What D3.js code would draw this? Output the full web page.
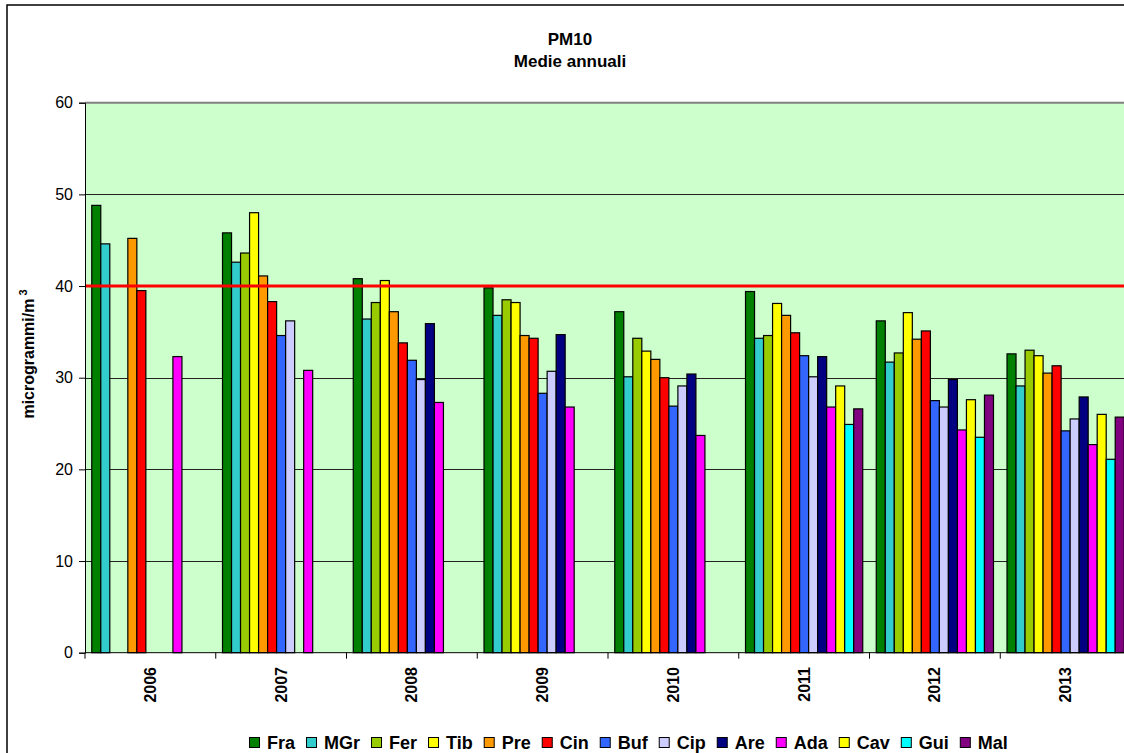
<!DOCTYPE html>
<html>
<head>
<meta charset="utf-8">
<script src="https://cdn.jsdelivr.net/npm/d3@7"></script>
<style>
  body { margin: 0; background: #fff; }
  svg { display: block; font-family: "Liberation Sans", Arial, sans-serif; }
</style>
</head>
<body>
<svg id="chart" width="1124" height="753"></svg>
<script>
const years = ["2006", "2007", "2008", "2009", "2010", "2011", "2012", "2013"];
const series = ["Fra", "MGr", "Fer", "Tib", "Pre", "Cin", "Buf", "Cip", "Are", "Ada", "Cav", "Gui", "Mal"];
const colors = ["#008000", "#33cccc", "#99cc00", "#ffff00", "#ff9900", "#ff0000", "#3366ff", "#ccccff", "#000080", "#ff00ff", "#ffff00", "#00ffff", "#800080"];

const Fra = [48.8, 45.8, 40.8, 39.8, 37.2, 39.4, 36.2, 32.6];
const MGr = [44.6, 42.6, 36.4, 36.8, 30.1, 34.3, 31.7, 29.1];
const Fer = [null, 43.6, 38.2, 38.5, 34.3, 34.6, 32.7, 33.0];
const Tib = [null, 48.0, 40.6, 38.2, 32.9, 38.1, 37.1, 32.4];
const Pre = [45.2, 41.1, 37.2, 34.6, 32.0, 36.8, 34.2, 30.5];
const Cin = [39.5, 38.3, 33.8, 34.3, 30.0, 34.9, 35.1, 31.3];
const Buf = [null, 34.6, 31.9, 28.3, 26.9, 32.4, 27.5, 24.2];
const Cip = [null, 36.2, 29.8, 30.7, 29.1, 30.1, 26.8, 25.5];
const Are = [null, null, 35.9, 34.7, 30.4, 32.3, 29.8, 27.9];
const Ada = [32.3, 30.8, 27.3, 26.8, 23.7, 26.8, 24.3, 22.7];
const Cav = [null, null, null, null, null, 29.1, 27.6, 26.0];
const Gui = [null, null, null, null, null, 24.9, 23.5, 21.1];
const Mal = [null, null, null, null, null, 26.6, 28.1, 25.7];
const values = [Fra, MGr, Fer, Tib, Pre, Cin, Buf, Cip, Are, Ada, Cav, Gui, Mal];

const yTicks = [0, 10, 20, 30, 40, 50, 60];
const limitValue = 40;

const svg = d3.select("#chart");
const margin = { top: 102.7, left: 85, right: 1131, bottom: 652.7 };

// flatten to bar records
const bars = [];
years.forEach((yr, i) => {
  series.forEach((s, j) => {
    const v = values[j][i];
    if (v != null) bars.push({ year: yr, series: s, value: v, color: colors[j] });
  });
});

// chart border
svg.append("rect")
  .attr("x", 7).attr("y", 5)
  .attr("width", 1126).attr("height", 760)
  .attr("fill", "#fff")
  .attr("stroke", "#000")
  .attr("stroke-width", 1.5);

// scales
const x0 = d3.scaleBand()
  .domain(years)
  .range([margin.left, margin.right])
  .padding(0);

const x1 = d3.scaleBand()
  .domain(series)
  .range([0, x0.bandwidth()])
  .paddingInner(0)
  .paddingOuter(0.75);

const y = d3.scaleLinear()
  .domain([0, 60])
  .range([margin.bottom, margin.top]);

// plot background
svg.append("rect")
  .attr("x", margin.left).attr("y", margin.top)
  .attr("width", margin.right - margin.left)
  .attr("height", margin.bottom - margin.top)
  .attr("fill", "#ccffcc");

// grid lines
svg.append("g")
  .selectAll("line")
  .data(yTicks.filter(d => d > 0 && d < 60))
  .join("line")
  .attr("x1", margin.left).attr("x2", margin.right)
  .attr("y1", d => Math.round(y(d)) + 0.5).attr("y2", d => Math.round(y(d)) + 0.5)
  .attr("stroke", "#222")
  .attr("stroke-width", 1);

svg.append("line")
  .attr("x1", margin.left).attr("x2", margin.right)
  .attr("y1", y(60)).attr("y2", y(60))
  .attr("stroke", "#808080")
  .attr("stroke-width", 2);

// bars
svg.append("g")
  .selectAll("rect")
  .data(bars)
  .join("rect")
  .attr("x", d => x0(d.year) + x1(d.series))
  .attr("y", d => y(d.value))
  .attr("width", x1.bandwidth())
  .attr("height", d => y(0) - y(d.value))
  .attr("fill", d => d.color)
  .attr("stroke", "#000")
  .attr("stroke-width", 1.2);

// limit line
svg.append("line")
  .attr("x1", margin.left).attr("x2", margin.right)
  .attr("y1", y(limitValue)).attr("y2", y(limitValue))
  .attr("stroke", "#ff0000")
  .attr("stroke-width", 3);

// y axis
const yAxis = svg.append("g")
  .attr("transform", `translate(${margin.left},0)`)
  .call(d3.axisLeft(y).tickValues(yTicks).tickSize(6).tickPadding(6));
yAxis.select(".domain").attr("stroke", "#000");
yAxis.selectAll("text")
  .attr("font-size", "16px")
  .attr("font-family", "Liberation Sans, Arial, sans-serif")
  .attr("fill", "#000");

// x axis: ticks at band edges
svg.append("line")
  .attr("x1", margin.left).attr("x2", margin.right)
  .attr("y1", margin.bottom).attr("y2", margin.bottom)
  .attr("stroke", "#000");

svg.append("g")
  .selectAll("line")
  .data(years)
  .join("line")
  .attr("x1", d => x0(d)).attr("x2", d => x0(d))
  .attr("y1", margin.bottom).attr("y2", margin.bottom + 6)
  .attr("stroke", "#000");

svg.append("g")
  .selectAll("text")
  .data(years)
  .join("text")
  .attr("transform", d => `translate(${x0(d) + x0.bandwidth() / 2}, 667) rotate(-90)`)
  .attr("dy", "0.35em")
  .attr("text-anchor", "end")
  .attr("font-size", "16px")
  .attr("font-weight", "bold")
  .text(d => d);

// y label
const yLabel = svg.append("text")
  .attr("transform", "translate(34, 354) rotate(-90)")
  .attr("text-anchor", "middle")
  .attr("font-size", "16px")
  .attr("font-weight", "bold");
yLabel.append("tspan").text("microgrammi/m");
yLabel.append("tspan").attr("font-size", "11px").attr("dy", "-7").attr("dx", "3").text("3");

// title
svg.append("text")
  .attr("x", 570).attr("y", 44.5)
  .attr("text-anchor", "middle")
  .attr("font-size", "17px")
  .attr("font-weight", "bold")
  .text("PM10");
svg.append("text")
  .attr("x", 570).attr("y", 67)
  .attr("text-anchor", "middle")
  .attr("font-size", "17px")
  .attr("font-weight", "bold")
  .text("Medie annuali");

// legend
const legend = svg.append("g");
let lx = 249;
series.forEach((s, j) => {
  legend.append("rect")
    .attr("x", lx + 0.5).attr("y", 737.5)
    .attr("width", 10).attr("height", 10)
    .attr("fill", colors[j])
    .attr("stroke", "#000");
  const t = legend.append("text")
    .attr("x", lx + 18).attr("y", 748.5)
    .attr("font-size", "18px")
    .attr("font-weight", "bold")
    .text(s);
  lx += 18 + t.node().getComputedTextLength() + 11;
});
</script>
</body>
</html>
